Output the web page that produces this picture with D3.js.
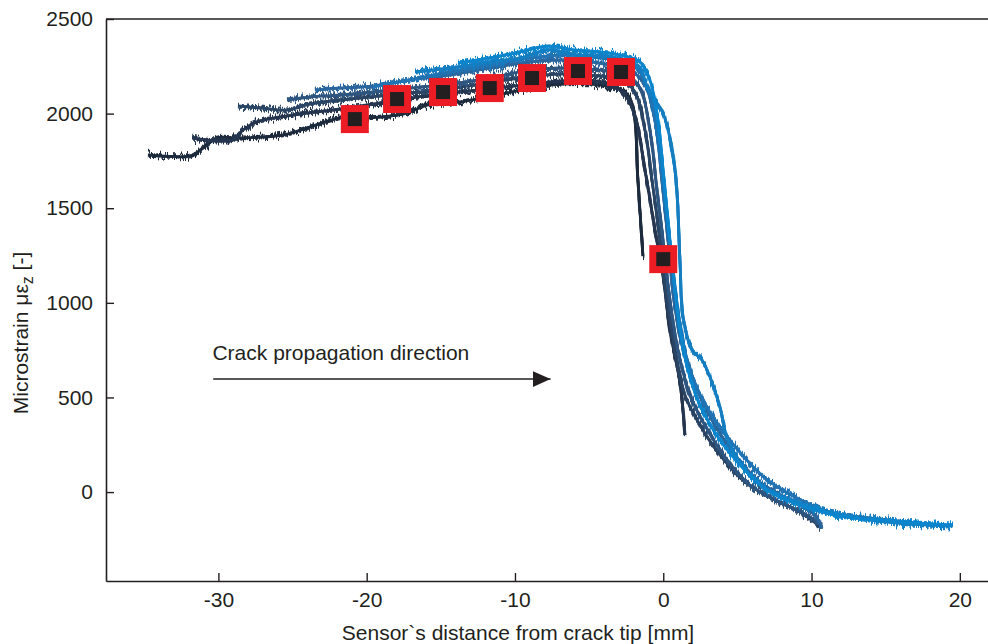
<!DOCTYPE html>
<html>
<head>
<meta charset="utf-8">
<script src="https://cdn.jsdelivr.net/npm/d3@7"></script>
<style>
  html, body { margin: 0; padding: 0; background: #fff; }
  svg { display: block; }
  text { font-family: "Liberation Sans", Arial, Helvetica, sans-serif; fill: #231f20; }
</style>
</head>
<body>
<svg id="chart" width="988" height="644"></svg>
<script>
// Strain gauge recordings: sensor distance from crack tip [mm] vs microstrain
const strain1 = [[-34.75,1781],[-33.3,1774],[-31.91,1776],[-31.0,1820],[-30.09,1871],[-28.54,1871],[-25.65,1887],[-24.03,1924],[-21.8,1977],[-19.98,1977],[-17.28,2003],[-15.93,2045],[-13.7,2061],[-10.54,2109],[-7.64,2151],[-4.27,2151],[-2.58,2114],[-2.04,2035],[-1.71,1649],[-1.37,1247]];
const strain2 = [[-31.77,1871],[-29.02,1860],[-28.35,1913],[-27.4,1956],[-24.5,1998],[-22.27,2019],[-19.11,2056],[-15.74,2098],[-12.36,2125],[-8.99,2156],[-5.62,2178],[-3.59,2156],[-2.58,2098],[-1.91,1992],[-1.23,1702],[-0.56,1385],[-0.02,1147],[0.45,856],[1.13,576],[1.46,301]];
const strain3 = [[-28.68,2040],[-27.19,2030],[-25.37,2019],[-23.82,2051],[-21.8,2072],[-19.78,2088],[-17.76,2104],[-15.06,2125],[-12.36,2156],[-9.66,2188],[-6.97,2209],[-4.27,2199],[-2.79,2178],[-1.91,2114],[-1.23,1913],[-0.76,1649],[-0.22,1332],[0.25,1015],[0.79,751],[1.46,513],[2.47,354],[3.82,196],[5.51,53],[7.53,-42],[9.22,-106],[10.7,-190]];
const strain4 = [[-25.37,2072],[-23.82,2088],[-21.8,2098],[-19.58,2114],[-17.08,2135],[-14.38,2156],[-11.69,2188],[-8.99,2230],[-6.29,2241],[-4.27,2230],[-2.58,2204],[-1.57,2135],[-0.9,1913],[-0.42,1596],[-0.02,1332],[0.45,1015],[0.99,751],[1.8,513],[2.81,354],[4.16,185],[5.85,37],[7.87,-53],[9.55,-116],[10.7,-174]];
const strain5 = [[-23.49,2125],[-21.8,2135],[-19.58,2146],[-17.08,2178],[-14.38,2204],[-11.69,2241],[-8.99,2273],[-6.29,2283],[-3.93,2262],[-2.25,2230],[-1.23,2151],[-0.56,1966],[-0.09,1649],[0.32,1332],[0.72,1015],[1.26,777],[2.14,566],[3.28,381],[4.83,196],[6.52,53],[8.54,-42],[10.23,-122],[10.7,-190]];
const strain6 = [[-19.58,2141],[-17.08,2178],[-14.38,2220],[-11.69,2257],[-8.99,2294],[-6.63,2310],[-4.27,2294],[-2.58,2273],[-1.57,2220],[-0.9,2098],[-0.36,1860],[0.11,1543],[0.59,1226],[0.99,962],[1.53,724],[2.34,539],[3.49,381],[5.17,211],[6.86,74],[8.88,-26],[11.24,-106],[13.94,-137],[16.63,-159]];
const strain7 = [[-16.74,2220],[-14.38,2241],[-11.69,2273],[-9.66,2294],[-7.78,2336],[-5.95,2310],[-4.27,2304],[-2.58,2283],[-1.57,2241],[-1.03,2125],[-0.02,2003],[0.79,1702],[1.13,1210],[1.33,925],[1.94,751],[2.61,698],[3.15,608],[3.82,449],[4.29,291],[5.17,159],[6.52,37],[8.54,-42],[11.24,-106],[13.94,-148],[16.63,-169],[19.53,-180]];
const strain8 = [[-13.84,2267],[-11.69,2294],[-9.66,2326],[-7.78,2357],[-5.95,2336],[-4.27,2326],[-2.58,2304],[-1.57,2273],[-0.9,2178],[-0.36,1966],[0.05,1649],[0.45,1332],[0.79,1068],[1.13,856],[1.67,645],[2.47,460],[3.82,275],[5.51,116],[7.2,0],[9.22,-69],[11.91,-127],[14.61,-148],[17.31,-164],[19.53,-174]];
const seriesList = [strain1, strain2, strain3, strain4, strain5, strain6, strain7, strain8];

// Averaged strain at each sensor position
const markerX = [-20.8, -17.95, -14.85, -11.7, -8.85, -5.75, -2.85, 0];
const markerY = [1971, 2077, 2114, 2135, 2188, 2225, 2220, 1231];

const xTicks = [-30, -20, -10, 0, 10, 20];
const yTicks = [0, 500, 1000, 1500, 2000, 2500];
const arrowFrom = [-30.35, 597];
const arrowTo = [-7.6, 597];
const noteText = "Crack propagation direction";
const noteAt = [-30.4, 700];

const palette = ["#1f2b3d", "#25364f", "#2a4464", "#2d5580", "#2b669d", "#2173b3", "#137dc1", "#0a85cc"];

const svg = d3.select("#chart");
const plotLeft = 106, plotTop = 19, plotBottom = 581;
const x = d3.scaleLinear().domain([-37.58, 21.9]).range([plotLeft, 988]);
const y = d3.scaleLinear().domain([-470, 2500]).range([plotBottom, plotTop]);

const defs = svg.append("defs");
// noise filters: vertical jitter giving the sampled-signal look
function jitterFilter(id, freq, seed, scale) {
  const f = defs.append("filter").attr("id", id)
    .attr("x", "-2%").attr("y", "-5%").attr("width", "104%").attr("height", "110%");
  f.append("feTurbulence").attr("type", "fractalNoise").attr("baseFrequency", freq)
    .attr("numOctaves", 1).attr("seed", seed).attr("result", "noise");
  const ct = f.append("feComponentTransfer").attr("in", "noise").attr("result", "map");
  ct.append("feFuncR").attr("type", "linear").attr("slope", 0).attr("intercept", 0.5);
  ct.append("feFuncG").attr("type", "linear").attr("slope", 1.8).attr("intercept", -0.4);
  ct.append("feFuncA").attr("type", "linear").attr("slope", 0).attr("intercept", 1);
  f.append("feDisplacementMap").attr("in", "SourceGraphic").attr("in2", "map")
    .attr("scale", scale).attr("xChannelSelector", "R").attr("yChannelSelector", "G");
}
jitterFilter("jitterA", "0.6 0.05", 7, 10);
jitterFilter("jitterB", "0.9 0.08", 21, 7);

const head = defs.append("marker").attr("id", "head")
  .attr("viewBox", "0 0 18 16").attr("refX", 18).attr("refY", 8)
  .attr("markerUnits", "userSpaceOnUse").attr("markerWidth", 18).attr("markerHeight", 16)
  .attr("orient", "auto");
head.append("path").attr("d", "M0,0 L18,8 L0,16 Z").attr("fill", "#231f20");

// curves: a solid core plus jittered copies for the noisy edges
const lineGen = d3.line().x(d => x(d[0])).y(d => y(d[1])).curve(d3.curveCatmullRom.alpha(0.5));
const gLines = svg.append("g");
seriesList.forEach((s, i) => {
  const p = lineGen(s);
  gLines.append("path").attr("d", p).attr("fill", "none")
    .attr("stroke", palette[i]).attr("stroke-width", 2.9)
    .attr("stroke-linejoin", "round");
  ["jitterA", "jitterB"].forEach(fid => {
    gLines.append("path").attr("d", p).attr("fill", "none")
      .attr("stroke", palette[i]).attr("stroke-width", 2.8)
      .attr("stroke-linejoin", "round").attr("filter", `url(#${fid})`);
  });
});

// axes
const axisColor = "#231f20";
const gx = svg.append("g").attr("transform", `translate(0,${plotBottom})`)
  .call(d3.axisBottom(x).tickValues(xTicks).tickFormat(d => String(d))
    .tickSizeInner(-8).tickSizeOuter(0).tickPadding(11));
const gy = svg.append("g").attr("transform", `translate(${plotLeft},0)`)
  .call(d3.axisLeft(y).tickValues(yTicks).tickFormat(d => String(d))
    .tickSizeInner(-8).tickSizeOuter(0).tickPadding(13));
[gx, gy].forEach(g => {
  g.selectAll("path.domain").attr("stroke", axisColor).attr("stroke-width", 1.6);
  g.selectAll(".tick line").attr("stroke", axisColor).attr("stroke-width", 1.4);
  g.selectAll(".tick text").attr("font-size", 21).attr("fill", axisColor)
    .attr("font-family", "'Liberation Sans', Arial, sans-serif");
});
svg.append("line").attr("x1", plotLeft).attr("x2", 988).attr("y1", plotTop).attr("y2", plotTop)
  .attr("stroke", axisColor).attr("stroke-width", 1.6);

// axis titles
svg.append("text").attr("x", 518).attr("y", 640).attr("text-anchor", "middle")
  .attr("font-size", 21).text("Sensor`s distance from crack tip [mm]");
const yt = svg.append("text").attr("transform", "translate(28,333) rotate(-90)")
  .attr("text-anchor", "middle").attr("font-size", 21);
yt.append("tspan").text("Microstrain με");
yt.append("tspan").attr("font-size", 16).attr("dy", 5).text("z");
yt.append("tspan").attr("dy", -5).text(" [-]");

// direction note
svg.append("text").attr("x", x(noteAt[0])).attr("y", y(noteAt[1]))
  .attr("font-size", 21).text(noteText);
svg.append("line")
  .attr("x1", x(arrowFrom[0])).attr("y1", y(arrowFrom[1]))
  .attr("x2", x(arrowTo[0])).attr("y2", y(arrowTo[1]))
  .attr("stroke", "#231f20").attr("stroke-width", 1.5).attr("marker-end", "url(#head)");

// averaged markers
const pts = markerX.map((v, i) => [v, markerY[i]]);
const gm = svg.append("g");
gm.selectAll("rect.outer").data(pts).join("rect").attr("class", "outer")
  .attr("x", d => x(d[0]) - 14).attr("y", d => y(d[1]) - 14)
  .attr("width", 28).attr("height", 28).attr("fill", "#ec1c24");
gm.selectAll("rect.inner").data(pts).join("rect").attr("class", "inner")
  .attr("x", d => x(d[0]) - 7).attr("y", d => y(d[1]) - 7)
  .attr("width", 14).attr("height", 14).attr("fill", "#231f20");
</script>
</body>
</html>
